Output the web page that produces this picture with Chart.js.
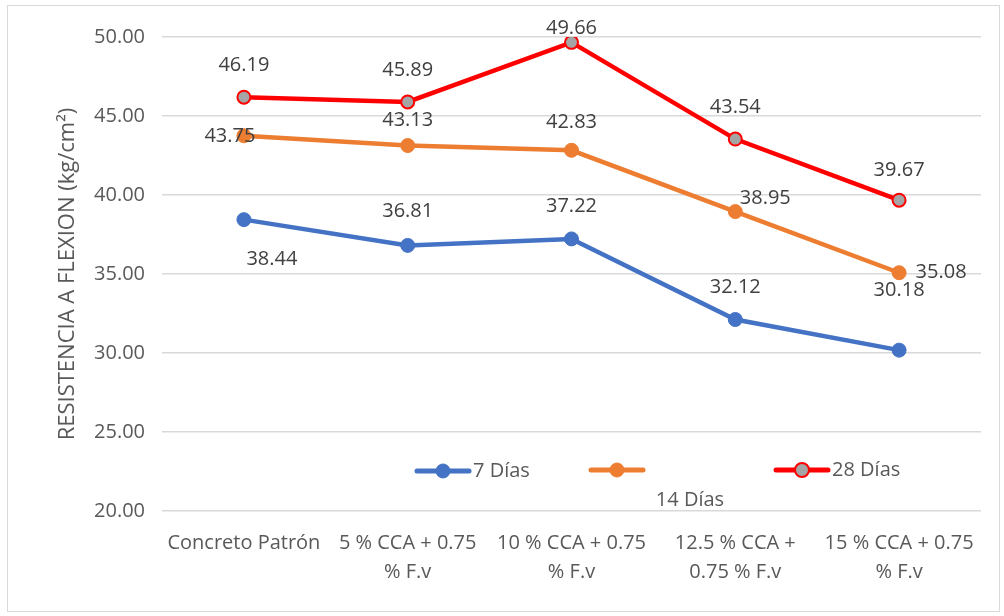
<!DOCTYPE html>
<html>
<head>
<meta charset="utf-8">
<script src="https://cdn.jsdelivr.net/npm/chart.js@4.4.1/dist/chart.umd.min.js"></script>
<style>
  html, body { margin: 0; padding: 0; background: #fff; }
  #wrap { width: 1004px; height: 616px; position: relative; }
</style>
</head>
<body>
<div id="wrap"><canvas id="myChart" width="1004" height="616"></canvas></div>
<script>
// data
var categories = [
  ['Concreto Patrón'],
  ['5 % CCA + 0.75', '% F.v'],
  ['10 % CCA + 0.75', '% F.v'],
  ['12.5 % CCA +', '0.75 % F.v'],
  ['15 % CCA + 0.75', '% F.v']
];
var seriesNames = ['7 Días', '14 Días', '28 Días'];
var dias7 = [38.44, 36.81, 37.22, 32.12, 30.18];
var dias14 = [43.75, 43.13, 42.83, 38.95, 35.08];
var dias28 = [46.19, 45.89, 49.66, 43.54, 39.67];
var yMin = 20, yMax = 50, yStep = 5;
var yTitle = 'RESISTENCIA A FLEXION (kg/cm\u00B2)';

var FONT = '"Open Sans", sans-serif';

// where each data label sits, relative to its point
var labelOffsets = [
  [[28, 40], [0, -34], [0, -33], [0, -32], [0, -60]],
  [[-14, 1], [0, -25], [0, -28], [30, -13], [42, 0]],
  [[0, -32], [0, -32], [0, -14], [0, -32], [0, -30]]
];

// frame around the chart
var framePlugin = {
  id: 'frame',
  beforeDraw: function(chart){
    var c = chart.ctx;
    c.save();
    c.strokeStyle = '#d9d9d9';
    c.lineWidth = 1;
    c.strokeRect(7.5, 5.5, 992, 606);
    c.restore();
  }
};

// value labels
var labelPlugin = {
  id: 'valueLabels',
  afterDatasetsDraw: function(chart){
    var c = chart.ctx;
    c.save();
    c.font = '20px ' + FONT;
    c.fillStyle = '#404040';
    c.textAlign = 'center';
    c.textBaseline = 'middle';
    chart.data.datasets.forEach(function(ds, i){
      var meta = chart.getDatasetMeta(i);
      meta.data.forEach(function(pt, j){
        var off = labelOffsets[i][j];
        c.fillText(ds.data[j].toFixed(2), pt.x + off[0], pt.y + off[1]);
      });
    });
    c.restore();
  }
};

// legend the Excel way: 14 Días wraps under its swatch
var legendPlugin = {
  id: 'xlLegend',
  afterDraw: function(chart){
    var c = chart.ctx;
    var items = [
      {x: 417, y: 471, tx: 473, ty: 471, align: 'left'},
      {x: 591, y: 470, tx: 690, ty: 500, align: 'center'},
      {x: 776, y: 470, tx: 832, ty: 470, align: 'left'}
    ];
    c.save();
    chart.data.datasets.forEach(function(ds, i){
      var it = items[i];
      c.strokeStyle = ds.borderColor;
      c.lineWidth = 5;
      c.lineCap = 'round';
      c.beginPath();
      c.moveTo(it.x, it.y);
      c.lineTo(it.x + 52, it.y);
      c.stroke();
      c.beginPath();
      c.arc(it.x + 26, it.y, 7, 0, Math.PI * 2);
      c.fillStyle = ds.pointBackgroundColor;
      c.fill();
      c.lineWidth = ds.pointBorderWidth;
      c.strokeStyle = ds.pointBorderColor;
      c.stroke();
      c.font = '20px ' + FONT;
      c.fillStyle = '#595959';
      c.textAlign = it.align;
      c.textBaseline = 'middle';
      c.fillText(ds.label, it.tx, it.ty);
    });
    c.restore();
  }
};

var ctx = document.getElementById('myChart');
var chart = new Chart(ctx, {
  type: 'line',
  data: {
    labels: categories,
    datasets: [
      {
        label: seriesNames[0],
        data: dias7,
        borderColor: '#4472c4',
        backgroundColor: '#4472c4',
        pointBackgroundColor: '#4472c4',
        pointBorderColor: '#4472c4',
        pointBorderWidth: 1,
        borderWidth: 4.5,
        pointRadius: 7
      },
      {
        label: seriesNames[1],
        data: dias14,
        borderColor: '#ed7d31',
        backgroundColor: '#ed7d31',
        pointBackgroundColor: '#ed7d31',
        pointBorderColor: '#ed7d31',
        pointBorderWidth: 1,
        borderWidth: 4.5,
        pointRadius: 7
      },
      {
        label: seriesNames[2],
        data: dias28,
        borderColor: '#ff0000',
        backgroundColor: '#ff0000',
        pointBackgroundColor: '#a5a5a5',
        pointBorderColor: '#ff0000',
        pointBorderWidth: 2,
        borderWidth: 4.5,
        pointRadius: 6.5
      }
    ]
  },
  options: {
    responsive: false,
    animation: false,
    layout: { padding: { left: 55, top: 37, right: 23, bottom: 0 } },
    plugins: {
      legend: { display: false },
      tooltip: { enabled: false }
    },
    scales: {
      x: {
        offset: true,
        grid: { display: false, drawTicks: false },
        border: { display: false },
        ticks: {
          autoSkip: false,
          maxRotation: 0,
          padding: 18,
          color: '#595959',
          font: { family: FONT, size: 20, lineHeight: 1.45 }
        },
        afterFit: function(s){ s.height = 105; }
      },
      y: {
        min: yMin,
        max: yMax,
        grid: { color: '#d9d9d9', lineWidth: 1.5, drawTicks: false },
        border: { display: false },
        ticks: {
          stepSize: yStep,
          padding: 17,
          color: '#595959',
          font: { family: FONT, size: 20 },
          callback: function(v){ return v.toFixed(2); }
        },
        title: {
          display: true,
          text: yTitle,
          color: '#595959',
          font: { family: FONT, size: 22 },
          padding: { top: 0, bottom: 0 }
        },
        afterFit: function(s){ s.width = 107; }
      }
    }
  },
  plugins: [framePlugin, labelPlugin, legendPlugin]
});
</script>
</body>
</html>
